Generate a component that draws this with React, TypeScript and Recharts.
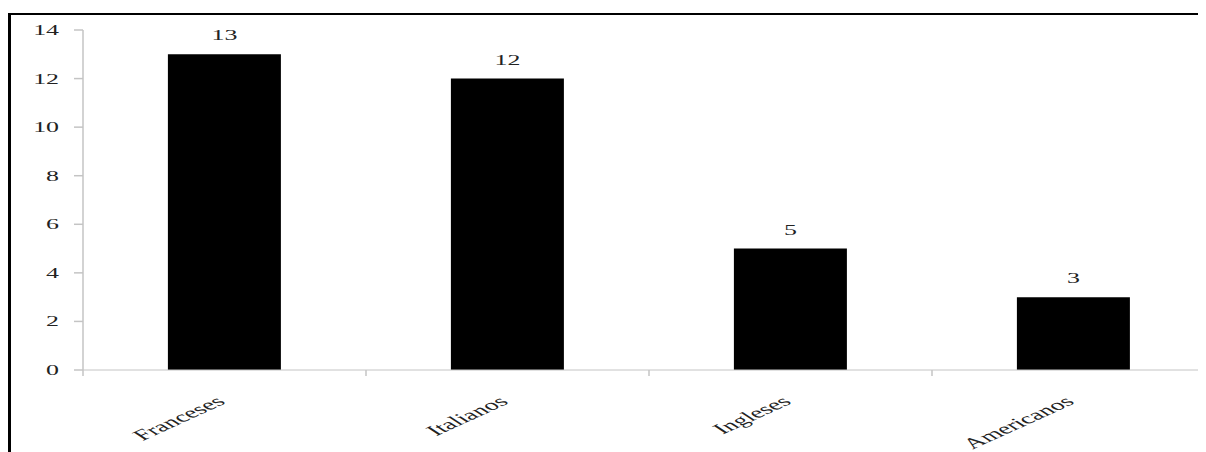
import React, { useEffect } from 'react';
import { BarChart, Bar, XAxis, YAxis, LabelList } from 'recharts';

const categories = ['Franceses', 'Italianos', 'Ingleses', 'Americanos'];
const counts = [13, 12, 5, 3];
const yTicks = [0, 2, 4, 6, 8, 10, 12, 14];

const data = categories.map((name, i) => ({ name, value: counts[i] }));

// text is stretched sideways, like an old chart export resized in width
const STRETCH = 1.85;
const AXIS_W = 72;
const BAND = 283;
const CHART_W = AXIS_W + BAND * categories.length + 6;
const CHART_H = 437;

const FONT = '"Liberation Serif", "Times New Roman", serif';
const TEXT = '#222';
const AXIS = '#c4c4c4';

const WideText = ({ x, y, anchor, angle = 0, size = 14, children }: any) => (
  <text
    x={0}
    y={0}
    textAnchor={anchor}
    fill={TEXT}
    fontFamily={FONT}
    fontSize={size}
    transform={`translate(${x}, ${y}) scale(${STRETCH}, 1) rotate(${angle})`}
  >
    {children}
  </text>
);

const ValueTick = (props: any) => {
  const { x, y, payload } = props;
  return (
    <WideText x={x} y={y + 5} anchor="end">
      {payload.value}
    </WideText>
  );
};

const CategoryTick = (props: any) => {
  const { x, y, payload } = props;
  const half = payload?.offset || BAND / 2;
  return (
    <g>
      <line x1={x - half} x2={x - half} y1={y} y2={y + 6} stroke={AXIS} strokeWidth={1.5} />
      <WideText x={x + 2} y={y + 33} anchor="end" angle={-40} size={15}>
        {payload.value}
      </WideText>
    </g>
  );
};

const BarValue = (props: any) => {
  const { x, y, width, value } = props;
  return (
    <WideText x={x + width / 2} y={y - 14} anchor="middle">
      {value}
    </WideText>
  );
};

export default function App() {
  useEffect(() => {
    document.documentElement.style.overflow = 'hidden';
    document.body.style.overflow = 'hidden';
  }, []);

  return (
    <div style={{ width: 1198, height: 444, overflow: 'hidden', position: 'relative' }}>
      <div
        style={{
          position: 'absolute',
          left: 0,
          top: 5,
          width: 1400,
          height: 600,
          borderLeft: '3px solid #000',
          borderTop: '2px solid #000',
        }}
      >
        <BarChart
          width={CHART_W}
          height={CHART_H}
          data={data}
          margin={{ top: 15, right: 6, bottom: 0, left: 0 }}
          barCategoryGap="30%"
        >
          <XAxis
            dataKey="name"
            height={82}
            stroke={AXIS}
            tickLine={false}
            tickSize={0}
            tickMargin={0}
            tick={<CategoryTick />}
            interval={0}
          />
          <YAxis
            width={AXIS_W}
            domain={[0, 14]}
            ticks={yTicks}
            stroke={AXIS}
            strokeWidth={1.5}
            tickSize={9}
            tickMargin={15}
            tick={<ValueTick />}
          />
          <Bar dataKey="value" fill="#000" isAnimationActive={false}>
            <LabelList dataKey="value" content={<BarValue />} />
          </Bar>
        </BarChart>
      </div>
    </div>
  );
}
